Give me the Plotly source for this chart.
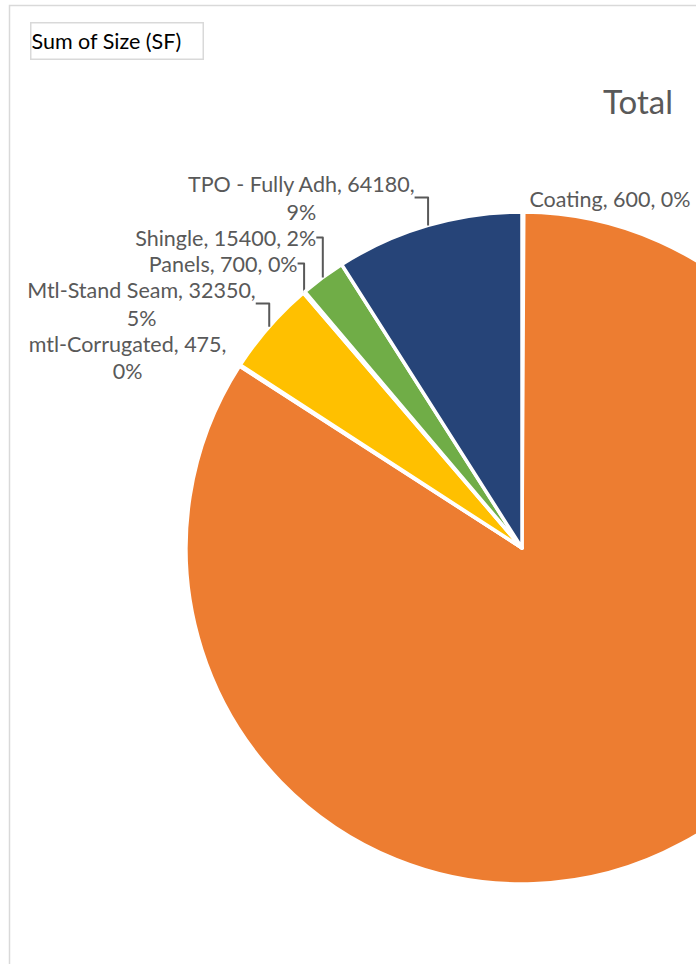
import plotly.graph_objects as go

# Data
categories = ["Coating", "Modified Bitumen", "mtl-Corrugated", "Mtl-Stand Seam",
              "Panels", "Shingle", "TPO - Fully Adh"]
values = [600, 598000, 475, 32350, 700, 15400, 64180]
colors = ["#4472C4", "#ED7D31", "#A5A5A5", "#FFC000", "#5B9BD5", "#70AD47", "#264478"]
templates = [
    "%{label}, %{value:.0f}, %{percent:.0%}",
    "%{label}, %{value:.0f}, %{percent:.0%}",
    "%{label}, %{value:.0f},<br>%{percent:.0%}",
    "%{label}, %{value:.0f},<br>%{percent:.0%}",
    "%{label}, %{value:.0f}, %{percent:.0%}",
    "%{label}, %{value:.0f}, %{percent:.0%}",
    "%{label}, %{value:.0f},<br>%{percent:.0%}",
]
positions = ["outside", "none", "outside", "outside", "outside", "outside", "outside"]

W, H = 1276, 964
cx, cy, r = 522, 548, 336
FONT = "Lato, 'Noto Sans', sans-serif"

fig = go.Figure(go.Pie(
    labels=categories,
    values=values,
    sort=False,
    direction="clockwise",
    rotation=0,
    marker=dict(colors=colors, line=dict(color="white", width=3.5)),
    texttemplate=templates,
    textposition=positions,
    textfont=dict(family=FONT, size=21.5, color="#595959"),
    outsidetextfont=dict(family=FONT, size=21.5, color="#595959"),
    hoverinfo="skip",
    showlegend=False,
    domain=dict(x=[(cx - r) / W, (cx + r) / W],
                y=[(H - cy - r) / H, (H - cy + r) / H]),
))

fig.update_layout(
    width=W, height=H,
    margin=dict(l=0, r=0, t=0, b=0),
    paper_bgcolor="white",
    title=dict(text="Total", x=638 / W, xanchor="center", y=1 - 102 / H,
               yanchor="middle", yref="container", xref="container",
               font=dict(family=FONT, size=33, color="#595959")),
    shapes=[dict(type="rect", xref="paper", yref="paper",
                 x0=9.5 / W, x1=1 - 8 / W, y0=-0.05, y1=1 - 5.5 / H,
                 line=dict(color="#D9D9D9", width=1.5), fillcolor="rgba(0,0,0,0)",
                 layer="below")],
    annotations=[dict(text="Sum of Size (SF)", xref="paper", yref="paper",
                      x=30 / W, y=1 - 21 / H, xanchor="left", yanchor="top",
                      showarrow=False, align="left", width=171, height=35,
                      bordercolor="#D9D9D9", borderwidth=1.5, borderpad=0,
                      yshift=-1,
                      font=dict(family=FONT, size=21.5, color="black"))],
)

fig.write_html("out.html",
               post_script="document.body.style.margin='0';document.body.style.overflow='hidden';")
